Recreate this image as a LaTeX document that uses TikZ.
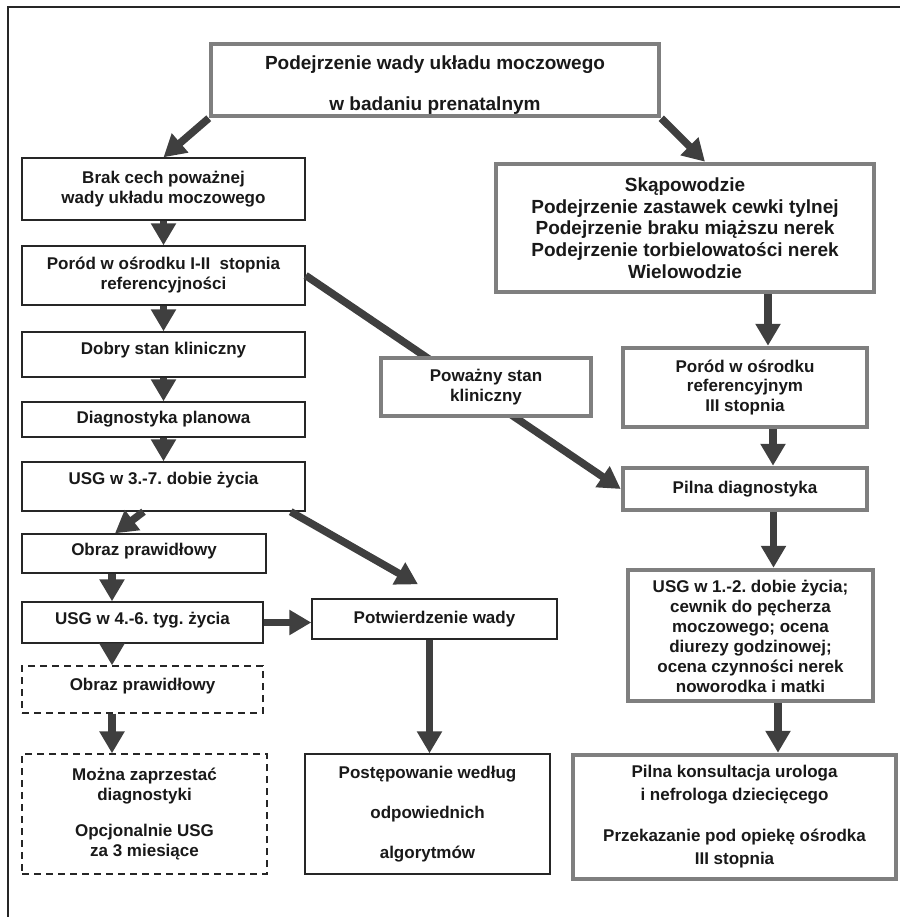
\documentclass[tikz,border=0pt]{standalone}
\usepackage{fontspec}
\setmainfont{Liberation Sans}
\usetikzlibrary{arrows.meta,calc}
\definecolor{arrgray}{HTML}{3F3F3F}
\definecolor{boxgray}{HTML}{7F7F7F}
\newcommand{\lowertext}[2]{\raisebox{-#1}[\height][\depth]{\begin{tabular}{@{}c@{}}#2\end{tabular}}}
\tikzset{
  base/.style={rectangle, inner sep=0pt, align=center, fill=white, text=black!90,
    font=\fontsize{17}{20}\selectfont\bfseries},
  thinbox/.style={base, draw=black!85, line width=1.4pt},
  thickbox/.style={base, draw=boxgray, line width=4.5pt},
  dashbox/.style={base, draw=black!85, line width=1.3pt, dash pattern=on 7pt off 5pt},
  arr/.style={draw=arrgray, line width=7.5pt,
    -{Triangle[width=24pt,length=22pt]}, shorten >=0pt},
}
\begin{document}
\frenchspacing
\begin{tikzpicture}[x=1pt,y=-1pt]
\useasboundingbox (0,0) rectangle (900,917);
% outer frame (only top and left sides visible)
\draw[black!85, line width=1.4pt] (8,917) -- (8,7) -- (900,7);

% top
\node[thickbox, minimum width=448pt, minimum height=72pt, align=none,
  font=\fontsize{19}{21}\selectfont\bfseries] (T) at (435,80)
  {\lowertext{6pt}{Podejrzenie wady układu moczowego\\[20pt]w badaniu prenatalnym}};

% left column
\node[thinbox, minimum width=283pt, minimum height=62pt] (B1) at (163.5,189)
  {Brak cech poważnej\\wady układu moczowego};
\node[thinbox, minimum width=283pt, minimum height=59pt] (B2) at (163.5,275.5)
  {Poród w ośrodku I-II\ \ stopnia\\referencyjności};
\node[thinbox, minimum width=283pt, minimum height=45pt, text height=12.5pt, text depth=13pt] (B3) at (163.5,354.5)
  {Dobry stan kliniczny};
\node[thinbox, minimum width=283pt, minimum height=35pt] (B4) at (163.5,419.5)
  {Diagnostyka planowa};
\node[thinbox, minimum width=283pt, minimum height=49pt, text height=12.5pt, text depth=16pt] (B5) at (163.5,486.5)
  {USG w 3.-7. dobie życia};
\node[thinbox, minimum width=244pt, minimum height=39pt, text height=12.5pt, text depth=8pt] (B6) at (144,553.5)
  {Obraz prawidłowy};
\node[thinbox, minimum width=241pt, minimum height=41pt, text height=12.5pt, text depth=9pt] (B7) at (142.5,622.5)
  {USG w 4.-6. tyg. życia};
\node[dashbox, minimum width=241pt, minimum height=47pt, text height=12.5pt, text depth=10pt] (D1) at (142.5,689.5)
  {Obraz prawidłowy};
\node[dashbox, minimum width=245pt, minimum height=120pt] (D2) at (144.5,814)
  {Można zaprzestać\\diagnostyki\\[16pt]Opcjonalnie USG\\za 3 miesiące};

% middle column
\node[thinbox, minimum width=245pt, minimum height=40pt] (P1) at (434.5,619)
  {Potwierdzenie wady};
\node[thinbox, minimum width=245pt, minimum height=120pt] (P2) at (427.5,814)
  {Postępowanie według\\[20pt]odpowiednich\\[20pt]algorytmów};

% right column
\node[thickbox, minimum width=378pt, minimum height=128pt,
  font=\fontsize{19}{21.7}\selectfont\bfseries] (R1) at (685,228)
  {Skąpowodzie\\Podejrzenie zastawek cewki tylnej\\Podejrzenie braku miąższu nerek\\Podejrzenie torbielowatości nerek\\Wielowodzie};
\node[thickbox, minimum width=244pt, minimum height=79pt, font=\fontsize{17}{19.5}\selectfont\bfseries] (R2) at (745,387.5)
  {Poród w ośrodku\\referencyjnym\\III stopnia};
\node[thickbox, minimum width=244pt, minimum height=42pt] (R3) at (745,489)
  {Pilna diagnostyka};
\node[thickbox, minimum width=245pt, minimum height=131pt] (R4) at (750.5,635.5)
  {\lowertext{3pt}{USG w 1.-2. dobie życia;\\cewnik do pęcherza\\moczowego; ocena\\diurezy godzinowej;\\ocena czynności nerek\\noworodka i matki}};
\node[thickbox, minimum width=323pt, minimum height=124pt, font=\fontsize{17}{23}\selectfont\bfseries] (R5) at (734.5,817)
  {Pilna konsultacja urologa\\i nefrologa dziecięcego\\[18pt]Przekazanie pod opiekę ośrodka\\III stopnia};

% connectors
\draw[arr] (T.south west) -- (B1.north);
\draw[arr] (T.south east) -- ([xshift=20pt]R1.north);
\draw[arr] (B1.south) -- (B2.north);
\draw[arr] (B2.south) -- (B3.north);
\draw[arr] (B3.south) -- (B4.north);
\draw[arr] (B4.south) -- (B5.north);
\draw[arr] ([xshift=-20pt]B5.south) -- ([xshift=-29pt]B6.north);
\draw[arr] ([xshift=-32pt]B6.south) -- ([xshift=-30.5pt]B7.north);
\draw[arr] ([xshift=-30.5pt]B7.south) -- ([xshift=-30.5pt]D1.north);
\draw[arr] ([xshift=-30.5pt]D1.south) -- ([xshift=-32.5pt]D2.north);
\draw[arr] (B7.east) -- (B7.east -| P1.west);
\draw[arr] ([xshift=-15pt]B5.south east) -- ($(P1.north)+(-16.5,-14)$);
\draw[arr] ([xshift=-5pt]P1.south) -- ([xshift=2pt]P2.north);
\draw[arr] ([xshift=83pt]R1.south) -- ([xshift=23pt]R2.north);
\draw[arr] ([xshift=28pt]R2.south) -- ([xshift=28pt]R3.north);
\draw[arr] ([xshift=28.5pt]R3.south) -- ([xshift=23pt]R4.north);
\draw[arr] ([xshift=27.5pt]R4.south) -- ([xshift=43.5pt]R5.north);
\draw[arr] (B2.east) -- (R3.west);

% middle box drawn over the long connector
\node[thickbox, minimum width=210pt, minimum height=58pt] (M) at (486,387)
  {Poważny stan\\kliniczny};
\end{tikzpicture}
\end{document}
